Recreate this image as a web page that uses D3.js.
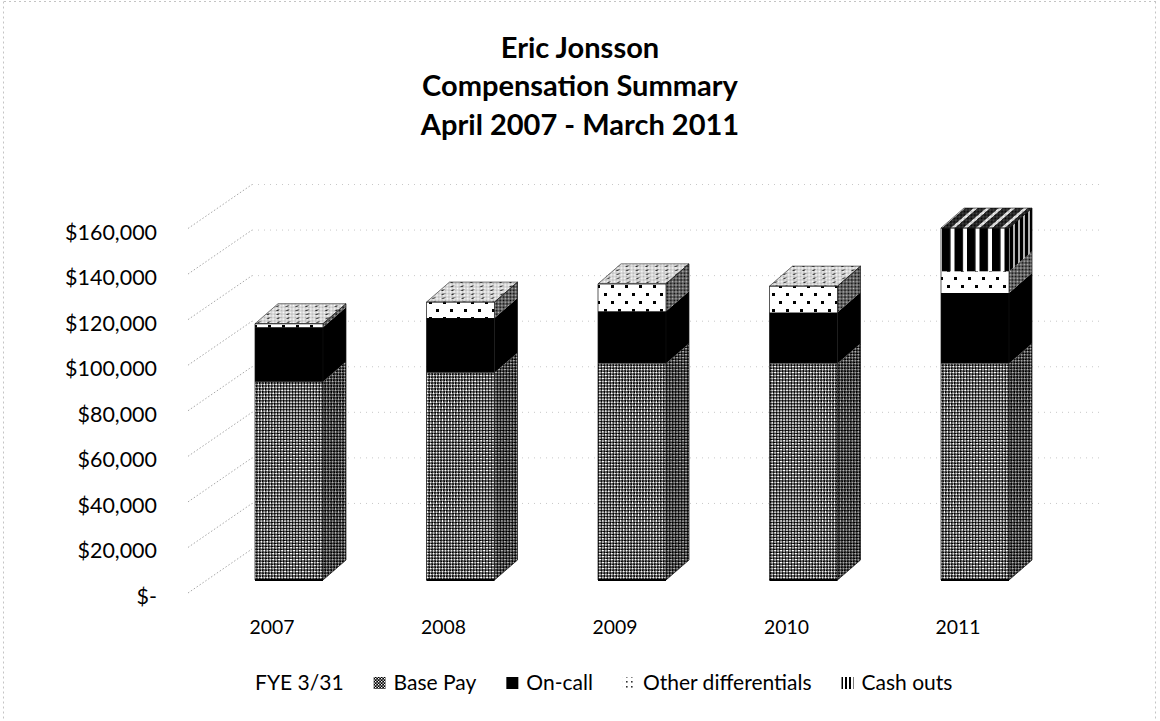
<!DOCTYPE html>
<html>
<head>
<meta charset="utf-8">
<script src="https://cdn.jsdelivr.net/npm/d3@7"></script>
<style>
  html, body { margin: 0; padding: 0; background: #fff; }
  svg { display: block; }
</style>
</head>
<body>
<svg id="chart" width="1160" height="721"></svg>
<script>
// ---- data ----
const years = ["2007", "2008", "2009", "2010", "2011"];
const basePay = [87000, 91000, 95000, 95000, 95000];
const onCall = [24000, 24000, 23000, 22500, 31000];
const otherDiff = [1500, 7000, 12000, 11500, 9500];
const cashOuts = [0, 0, 0, 0, 19000];
const yTicks = [0, 20000, 40000, 60000, 80000, 100000, 120000, 140000, 160000];
const seriesNames = ["Base Pay", "On-call", "Other differentials", "Cash outs"];
const legendLead = "FYE 3/31";
const titleLines = ["Eric Jonsson", "Compensation Summary", "April 2007 - March 2011"];

const FONT = "Lato, 'Open Sans', sans-serif";
const svg = d3.select("#chart");
const W = 1160, H = 721;

// depth offset of the 3-D columns
const DX = 23, DY = -20;

// value scale at the front face of the columns
const y = d3.scaleLinear().domain([0, 160000]).range([580, 215.5]);
// category scale for the front face of each column
const x = d3.scaleBand().domain(years).range([203.55, 1060.45])
  .paddingInner(0.6035).paddingOuter(0.3);

// ---- patterns ----
const defs = svg.append("defs");

// dark weave: black ground with small white diamonds
function weave(id, size, hole, transform) {
  const p = defs.append("pattern").attr("id", id)
    .attr("patternUnits", "userSpaceOnUse").attr("width", size).attr("height", size);
  if (transform) p.attr("patternTransform", transform);
  p.append("rect").attr("width", size).attr("height", size).attr("fill", "#000");
  p.append("rect").attr("x", 0).attr("y", 0).attr("width", hole).attr("height", hole).attr("fill", "#fff");
  p.append("rect").attr("x", size / 2).attr("y", size / 2).attr("width", hole).attr("height", hole).attr("fill", "#fff");
}
weave("basePat", 4.2, 1.9, "rotate(45)");
weave("baseSwatch", 3, 1.3, null);

function checker(id, size, transform) {
  const p = defs.append("pattern").attr("id", id)
    .attr("patternUnits", "userSpaceOnUse").attr("width", size * 2).attr("height", size * 2);
  if (transform) p.attr("patternTransform", transform);
  p.append("rect").attr("width", size * 2).attr("height", size * 2).attr("fill", "#fff");
  p.append("rect").attr("x", 0).attr("y", 0).attr("width", size).attr("height", size).attr("fill", "#000");
  p.append("rect").attr("x", size).attr("y", size).attr("width", size).attr("height", size).attr("fill", "#000");
}
checker("fineHatch", 1, "rotate(45)");

function dots(id, transform) {
  const p = defs.append("pattern").attr("id", id)
    .attr("patternUnits", "userSpaceOnUse").attr("width", 14).attr("height", 16);
  if (transform) p.attr("patternTransform", transform);
  p.append("rect").attr("width", 14).attr("height", 16).attr("fill", "#fff");
  p.append("rect").attr("x", 2).attr("y", 3).attr("width", 3).attr("height", 3).attr("fill", "#000");
  p.append("rect").attr("x", 9).attr("y", 11).attr("width", 3).attr("height", 3).attr("fill", "#000");
}
dots("dotsPat", "translate(0,2)");
dots("dotsTop", "skewX(-49) scale(0.7,0.5)");

function dotsSwatch(id) {
  const p = defs.append("pattern").attr("id", id)
    .attr("patternUnits", "userSpaceOnUse").attr("width", 5).attr("height", 5);
  p.append("rect").attr("width", 5).attr("height", 5).attr("fill", "#fff");
  p.append("rect").attr("x", 1).attr("y", 1).attr("width", 1.6).attr("height", 1.6).attr("fill", "#333");
}
dotsSwatch("dotsSwatch");

function stripes(id, period, black, transform) {
  const p = defs.append("pattern").attr("id", id)
    .attr("patternUnits", "userSpaceOnUse").attr("width", period).attr("height", 10);
  if (transform) p.attr("patternTransform", transform);
  p.append("rect").attr("width", period).attr("height", 10).attr("fill", "#fff");
  p.append("rect").attr("x", 0).attr("width", black).attr("height", 10).attr("fill", "#000");
}
stripes("stripePat", 12.5, 8.5, "translate(942,0)");
stripes("stripeTop", 12.5, 8.5, "translate(942,0) skewX(-49)");
stripes("stripeSide", 5, 3, null);
stripes("stripeSwatch", 4, 2, "translate(1,0)");

// fills for each face of each series
const faceFill = [
  { front: "url(#basePat)", side: "url(#basePat)", sideShade: 0.3, top: "url(#basePat)" },
  { front: "#000", side: "#000", sideShade: 0, top: "#000" },
  { front: "url(#dotsPat)", side: "url(#fineHatch)", sideShade: 0.25, top: "url(#dotsTop)" },
  { front: "url(#stripePat)", side: "url(#stripeSide)", sideShade: 0.3, top: "url(#stripeTop)" }
];
const swatchFill = ["url(#baseSwatch)", "#000", "url(#dotsSwatch)", "url(#stripeSwatch)"];

// ---- chart border (faint dotted frame) ----
const frame = svg.append("g").attr("fill", "none").attr("stroke", "#c4c4c4")
  .attr("stroke-width", 1).attr("stroke-dasharray", "2,3");
frame.append("line").attr("x1", 4).attr("x2", W - 4).attr("y1", 1.5).attr("y2", 1.5);
frame.append("line").attr("x1", 3.5).attr("x2", 3.5).attr("y1", 1.5).attr("y2", H - 2);
frame.append("line").attr("x1", W - 4.5).attr("x2", W - 4.5).attr("y1", 1.5).attr("y2", H - 2);

// ---- title ----
function fitSize(sample, target, weight) {
  const t = svg.append("text").attr("font-family", FONT).attr("font-size", 20)
    .attr("font-weight", weight || "normal").text(sample);
  const w = t.node().getComputedTextLength();
  t.remove();
  return 20 * target / w;
}
const titleSize = fitSize(titleLines[1], 316, "bold");
svg.append("g").selectAll("text").data(titleLines).join("text")
  .attr("x", 580).attr("y", (d, i) => 46 + i * 38.5)
  .attr("dominant-baseline", "central")
  .attr("text-anchor", "middle").attr("font-family", FONT).attr("font-weight", "bold")
  .attr("font-size", titleSize).attr("fill", "#000").text(d => d);

// ---- walls: gridlines on the left wall and the back wall ----
const WALL_L = 188, WALL_B = 252, WALL_R = 1100;
const grid = svg.append("g").attr("fill", "none");
grid.selectAll("line.side").data(yTicks).join("line").attr("class", "side")
  .attr("x1", WALL_L).attr("y1", d => y(d) + 13)
  .attr("x2", WALL_B).attr("y2", d => y(d) - 31)
  .attr("stroke", "#a8a8a8").attr("stroke-width", 1).attr("stroke-dasharray", "1.5,2");
grid.selectAll("line.back").data(yTicks.filter(d => d > 0)).join("line").attr("class", "back")
  .attr("x1", WALL_B).attr("y1", d => y(d) - 31)
  .attr("x2", WALL_R).attr("y2", d => y(d) - 31)
  .attr("stroke", "#c8c8c8").attr("stroke-width", 1).attr("stroke-dasharray", "1,5");

// ---- y axis labels ----
const yLabel = y.copy().range([596, 231.5]);
const yFontSize = fitSize("$160,000", 92);
const yAxis = svg.append("g").attr("transform", "translate(157,0)")
  .call(d3.axisLeft(yLabel).tickValues(yTicks).tickSize(0).tickPadding(0)
    .tickFormat(d => d === 0 ? "$-" : d3.format("$,")(d)));
yAxis.select(".domain").remove();
yAxis.selectAll("text").attr("font-family", FONT).attr("font-size", yFontSize)
  .attr("fill", "#000").attr("dy", "0.35em");

// ---- x axis labels ----
const xLabel = x.copy().range(x.range().map(v => v - 17));
const xFontSize = fitSize("2007", 45);
const xAxis = svg.append("g").attr("transform", "translate(0,627)")
  .call(d3.axisBottom(xLabel).tickSize(0).tickPadding(0));
xAxis.select(".domain").remove();
xAxis.selectAll("text").attr("font-family", FONT).attr("font-size", xFontSize)
  .attr("fill", "#000").attr("y", 0).attr("dy", "0.35em");

// ---- stacked 3-D columns ----
const seriesValues = [basePay, onCall, otherDiff, cashOuts];
const bars = svg.append("g");
years.forEach((yr, i) => {
  const x0 = x(yr), w = x.bandwidth(), x1 = x0 + w;
  let cum = 0;
  const segs = [];
  seriesValues.forEach((vals, s) => {
    if (vals[i] > 0) { segs.push({ s, v0: cum, v1: cum + vals[i] }); cum += vals[i]; }
  });
  const g = bars.append("g");
  segs.forEach((seg, k) => {
    const f = faceFill[seg.s];
    const yt = y(seg.v1), yb = y(seg.v0);
    // front face
    g.append("rect").attr("x", x0).attr("y", yt).attr("width", w).attr("height", yb - yt)
      .attr("fill", f.front);
    // right side face
    const side = [[x1, yt], [x1 + DX, yt + DY], [x1 + DX, yb + DY], [x1, yb]];
    g.append("polygon").attr("points", side.join(" ")).attr("fill", f.side);
    if (f.sideShade > 0) {
      g.append("polygon").attr("points", side.join(" ")).attr("fill", "#000")
        .attr("fill-opacity", f.sideShade);
    }
    // top face of the highest segment
    if (k === segs.length - 1) {
      const top = [[x0, yt], [x1, yt], [x1 + DX, yt + DY], [x0 + DX, yt + DY]];
      g.append("polygon").attr("points", top.join(" ")).attr("fill", f.top);
      g.append("polygon").attr("points", top.join(" ")).attr("fill", "url(#fineHatch)")
        .attr("fill-opacity", 0.3);
      g.append("polygon").attr("points", top.join(" ")).attr("fill", "none")
        .attr("stroke", "#222").attr("stroke-width", 0.6);
    }
  });
  // outline of the whole column
  const yTop = y(cum), yBot = y(0);
  g.append("path")
    .attr("d", `M${x0},${yBot}H${x1}V${yTop}H${x0}Z M${x1},${yBot}L${x1 + DX},${yBot + DY}V${yTop + DY}L${x1},${yTop}`)
    .attr("fill", "none").attr("stroke", "#111").attr("stroke-width", 0.7);
  g.append("line").attr("x1", x0).attr("x2", x1).attr("y1", yBot).attr("y2", yBot)
    .attr("stroke", "#000").attr("stroke-width", 2);
});

// ---- legend ----
const legSize = (() => {
  const t = svg.append("g");
  const all = [legendLead, ...seriesNames];
  let tot = 0;
  all.forEach(s => {
    const n = t.append("text").attr("font-family", FONT).attr("font-size", 20).text(s);
    tot += n.node().getComputedTextLength();
  });
  t.remove();
  // 698 px total, minus swatches (4 x 20) and gaps (4 x 30)
  return 20 * (698 - 80 - 120) / tot;
})();
const legend = svg.append("g").attr("font-family", FONT).attr("font-size", legSize).attr("fill", "#000");
let lx = 255;
const LY = 683;
const lead = legend.append("text").attr("x", lx).attr("y", LY).attr("dy", "0.35em").text(legendLead);
lx += lead.node().getComputedTextLength() + 30;
seriesNames.forEach((name, s) => {
  legend.append("rect").attr("x", lx).attr("y", LY - 6).attr("width", 12).attr("height", 12)
    .attr("fill", swatchFill[s]);
  const t = legend.append("text").attr("x", lx + 20).attr("y", LY).attr("dy", "0.35em").text(name);
  lx += 20 + t.node().getComputedTextLength() + 30;
});
</script>
</body>
</html>
